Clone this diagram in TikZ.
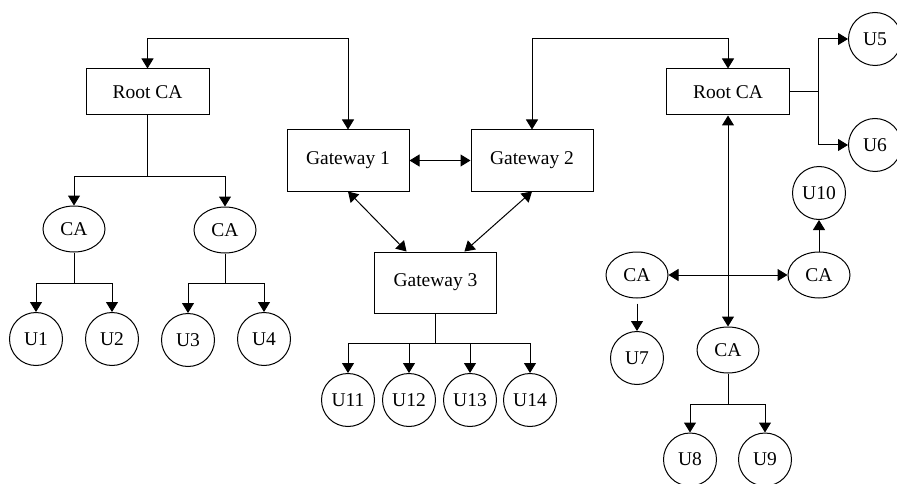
\documentclass[tikz,border=0pt]{standalone}
\usepackage{fontspec}
\setmainfont{Liberation Serif}
\usepackage{tikz}
\usetikzlibrary{arrows.meta,calc,positioning,shapes.geometric}

\begin{document}
\begin{tikzpicture}[x=1pt, y=-1pt, line width=1pt,
    every node/.style={font=\fontsize{19.5}{22}\selectfont},
    rootbox/.style={rectangle,draw,minimum width=123pt,minimum height=46pt,inner sep=0pt},
    gwbox/.style={rectangle,draw,minimum width=122pt,minimum height=61pt,inner sep=0pt},
    caell/.style={ellipse,draw,minimum width=62pt,minimum height=46pt,inner sep=0pt},
    user/.style={circle,draw,minimum size=53pt,inner sep=0pt},
    arr/.style={-{Triangle[length=10pt,width=12pt]}},
    dbl/.style={{Triangle[length=10pt,width=12pt]}-{Triangle[length=10pt,width=12pt]}}]
  \useasboundingbox (0,0) rectangle (897,484);
  % left tree
  \node[rootbox] (rootL) at (147.5,92) {Root CA};
  \node[caell] (ca1) at (74,229) {CA};
  \node[caell] (ca2) at (225,230) {CA};
  \node[user] (u1) at (36,339) {U1};
  \node[user] (u2) at (112,339) {U2};
  \node[user] (u3) at (188,340) {U3};
  \node[user] (u4) at (264,339) {U4};
  % gateways
  \node[gwbox] (gw1) at (348,160.5) {Gateway 1};
  \node[gwbox] (gw2) at (532,160.5) {Gateway 2};
  \node[gwbox] (gw3) at (435.5,282.5) {Gateway 3};
  \node[user] (u11) at (348,400) {U11};
  \node[user] (u12) at (409,400) {U12};
  \node[user] (u13) at (470,400) {U13};
  \node[user] (u14) at (530,400) {U14};
  % right tree
  \node[rootbox] (rootR) at (728,92) {Root CA};
  \node[user] (u5) at (875,39) {U5};
  \node[user] (u6) at (875,145) {U6};
  \node[user] (u10) at (819,193) {U10};
  \node[caell] (caA) at (637,275) {CA};
  \node[caell] (caB) at (819,275) {CA};
  \node[caell] (caM) at (728,350) {CA};
  \node[user] (u7) at (637,358) {U7};
  \node[user] (u8) at (690,459.5) {U8};
  \node[user] (u9) at (765,459.5) {U9};

  % links between roots and gateways
  \draw[dbl] (rootL.north) -- ++(0,-30) -| (gw1.north);
  \draw[dbl] (gw2.north) -- ++(0,-91) -| (rootR.north);
  \draw[dbl] (gw1.east) -- (gw2.west);
  \draw[dbl] (gw1.south) -- (gw3.133);
  \draw[dbl] (gw2.south) -- (gw3.47);

  % left root down to users
  \draw (rootL.south) -- ++(0,61) coordinate (jL);
  \draw[arr] (jL) -| (ca1.north);
  \draw[arr] (jL) -| (ca2.north);
  \draw (ca1.south) -- ++(0,31) coordinate (j1);
  \draw[arr] (j1) -| (u1.north);
  \draw[arr] (j1) -| (u2.north);
  \draw (ca2.south) -- ++(0,30) coordinate (j2);
  \draw[arr] (j2) -| (u3.north);
  \draw[arr] (j2) -| (u4.north);

  % gateway 3 down to users
  \draw (gw3.south) -- ++(0,30) coordinate (jG);
  \draw[arr] (jG) -| (u11.north);
  \draw[arr] (jG) -| (u12.north);
  \draw[arr] (jG) -| (u13.north);
  \draw[arr] (jG) -| (u14.north);

  % right root
  \draw (rootR.east) -- ++(28,0) coordinate (jR);
  \draw[arr] (jR) |- (u5.west);
  \draw[arr] (jR) |- (u6.west);
  \draw[dbl] (rootR.south) -- (caM.north);
  \draw[dbl] (caA.east) -- (caB.west);
  \draw[arr] (caB.north) -- (u10.south);
  \draw[arr, shorten <=5pt] (caA.south) -- (u7.north);
  \draw (caM.south) -- ++(0,31) coordinate (jM);
  \draw[arr] (jM) -| (u8.north);
  \draw[arr] (jM) -| (u9.north);
\end{tikzpicture}
\end{document}
